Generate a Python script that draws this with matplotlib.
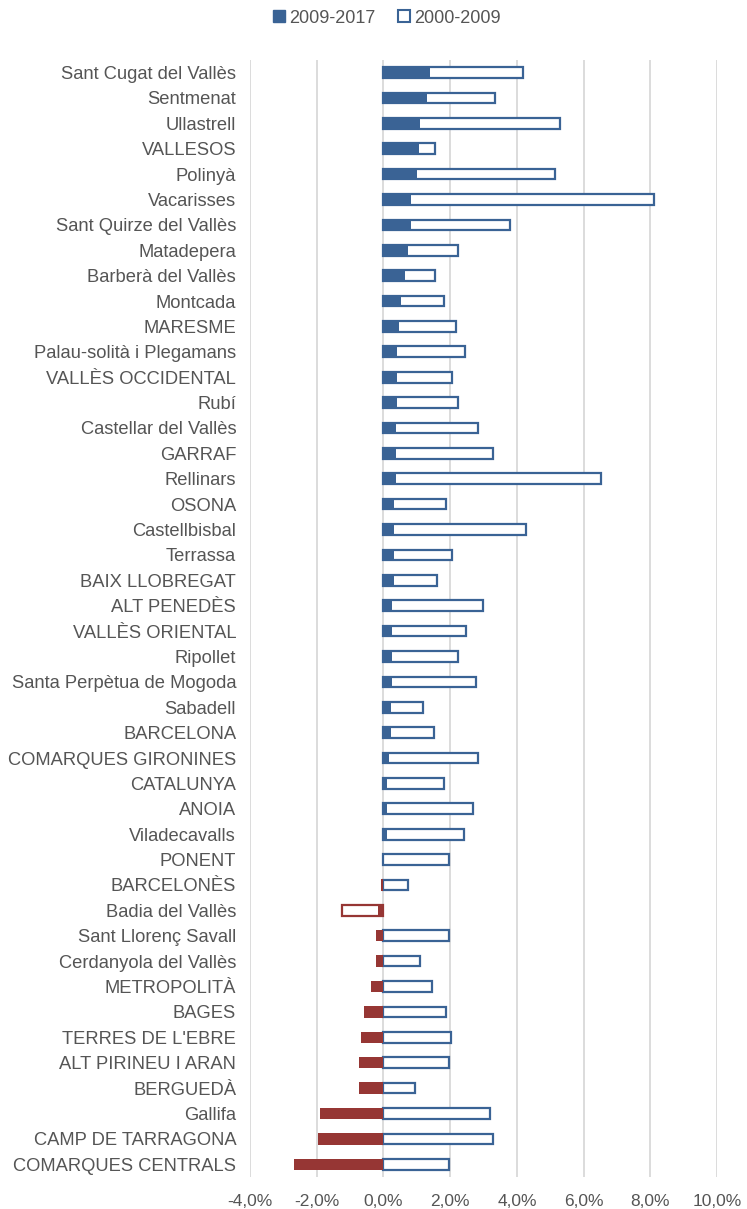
import matplotlib
matplotlib.use('Agg')
import matplotlib.pyplot as plt
from matplotlib.patches import Patch
from matplotlib.ticker import FuncFormatter

plt.rcParams['font.family'] = ['Liberation Sans', 'DejaVu Sans']

# categories, top to bottom
names = [
    'Sant Cugat del Vallès', 'Sentmenat', 'Ullastrell', 'VALLESOS', 'Polinyà',
    'Vacarisses', 'Sant Quirze del Vallès', 'Matadepera', 'Barberà del Vallès',
    'Montcada', 'MARESME', 'Palau-solità i Plegamans', 'VALLÈS OCCIDENTAL',
    'Rubí', 'Castellar del Vallès', 'GARRAF', 'Rellinars', 'OSONA',
    'Castellbisbal', 'Terrassa', 'BAIX LLOBREGAT', 'ALT PENEDÈS',
    'VALLÈS ORIENTAL', 'Ripollet', 'Santa Perpètua de Mogoda', 'Sabadell',
    'BARCELONA', 'COMARQUES GIRONINES', 'CATALUNYA', 'ANOIA', 'Viladecavalls',
    'PONENT', 'BARCELONÈS', 'Badia del Vallès', 'Sant Llorenç Savall',
    'Cerdanyola del Vallès', 'METROPOLITÀ', 'BAGES', "TERRES DE L'EBRE",
    'ALT PIRINEU I ARAN', 'BERGUEDÀ', 'Gallifa', 'CAMP DE TARRAGONA',
    'COMARQUES CENTRALS',
]

# % growth 2009-2017 (filled bars)
g_2009_2017 = [
    1.40, 1.30, 1.10, 1.05, 0.99, 0.83, 0.83, 0.73, 0.64,
    0.53, 0.47, 0.42, 0.42, 0.42, 0.37, 0.37, 0.37, 0.32,
    0.32, 0.32, 0.32, 0.27, 0.27, 0.27, 0.27, 0.22, 0.22,
    0.17, 0.11, 0.12, 0.12, 0.03, -0.06, -0.17, -0.22,
    -0.22, -0.37, -0.57, -0.68, -0.73, -0.73, -1.91, -1.96, -2.68,
]

# % growth 2000-2009 (outlined bars)
g_2000_2009 = [
    4.17, 3.34, 5.29, 1.55, 5.13, 8.11, 3.80, 2.22, 1.55,
    1.80, 2.17, 2.43, 2.06, 2.22, 2.83, 3.29, 6.53, 1.86,
    4.27, 2.06, 1.60, 2.99, 2.48, 2.22, 2.78, 1.19, 1.50,
    2.83, 1.80, 2.68, 2.42, 1.96, 0.73, -1.23, 1.96,
    1.08, 1.45, 1.86, 2.01, 1.96, 0.93, 3.18, 3.28, 1.96,
]

xticks = [-4, -2, 0, 2, 4, 6, 8, 10]

BLUE = '#3a6395'
RED = '#963634'
TXT = '#555555'

fig = plt.figure(figsize=(7.47, 12.09), dpi=100)
ax = fig.add_axes([0.3347, 0.0265, 0.6253, 0.924])

ypos = list(range(len(names)))
h = 0.42

# outline bars first, filled bars on top
for y, v in zip(ypos, g_2000_2009):
    c = BLUE if v >= 0 else RED
    ax.barh(y, v, height=h, color='white', edgecolor=c, linewidth=1.6, zorder=2)
for y, v in zip(ypos, g_2009_2017):
    c = BLUE if v >= 0 else RED
    ax.barh(y, v, height=h + 0.03, color=c, edgecolor='none', linewidth=0, zorder=3)

ax.set_ylim(len(names) - 0.5, -0.5)
ax.set_yticks(ypos)
ax.set_yticklabels(names)
ax.set_xlim(-4, 10)
ax.set_xticks(xticks)
ax.xaxis.set_major_formatter(FuncFormatter(lambda v, p: ('%.1f%%' % v).replace('.', ',')))
ax.tick_params(axis='both', length=0, labelcolor=TXT)
ax.tick_params(axis='y', pad=10, labelsize=13.2)
ax.tick_params(axis='x', pad=12, labelsize=12.5)
ax.grid(axis='x', color='#d9d9d9', linewidth=1.3, zorder=0)
ax.set_axisbelow(True)
for s in ax.spines.values():
    s.set_visible(False)

handles = [
    Patch(facecolor=BLUE, edgecolor=BLUE, label='2009-2017'),
    Patch(facecolor='white', edgecolor=BLUE, linewidth=1.5, label='2000-2009'),
]
leg = fig.legend(handles=handles, loc='center', bbox_to_anchor=(0.518, 0.985),
                 ncol=2, frameon=False, fontsize=13, handlelength=0.65,
                 handleheight=0.65, handletextpad=0.2, columnspacing=1.3)
for t in leg.get_texts():
    t.set_color(TXT)

fig.savefig('out.png', dpi=100)
